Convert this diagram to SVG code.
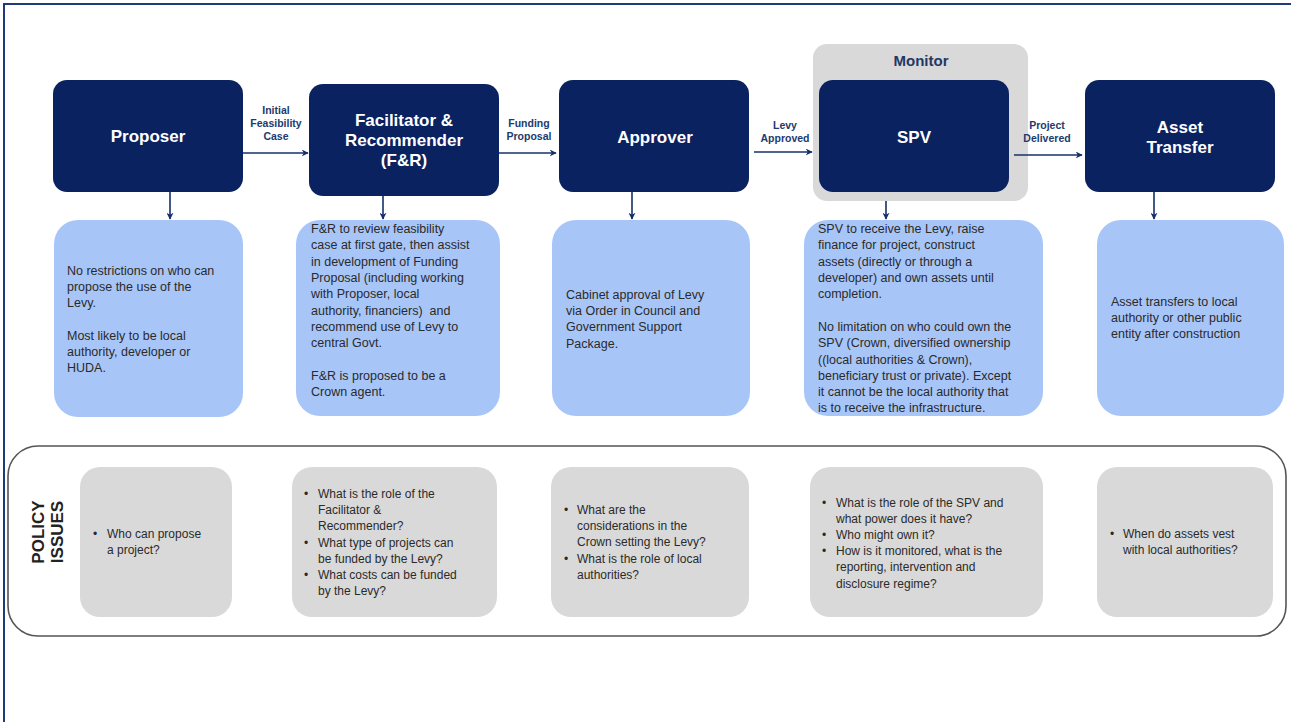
<svg xmlns="http://www.w3.org/2000/svg" width="1291" height="722" viewBox="0 0 1291 722">
<style>
.node{fill:#0b2260}
.title{font-family:"Liberation Sans",Arial,sans-serif;font-weight:bold;font-size:17px;fill:#fff;text-anchor:middle}
.lbl{font-family:"Liberation Sans",Arial,sans-serif;font-weight:bold;font-size:10.5px;fill:#213a6e;text-anchor:middle}
.desc{fill:#a8c5f8}
.body{font-family:"Liberation Sans",Arial,sans-serif;font-size:12.5px;fill:#2a2a2a;white-space:pre}
.issue{fill:#d9d9d9}
.itext{font-family:"Liberation Sans",Arial,sans-serif;font-size:12px;fill:#2a2a2a}
.conn{stroke:#14306a;stroke-width:1.6;fill:none;marker-end:url(#ah)}
</style>
<defs>
<marker id="ah" viewBox="0 0 10 10" refX="9" refY="5" markerWidth="7" markerHeight="7" markerUnits="userSpaceOnUse" orient="auto">
<path d="M0,0 L10,5 L0,10 L3,5 Z" fill="#14306a"/>
</marker>
</defs>
<rect width="1291" height="722" fill="#fff"/>
<path d="M4,722 L4,4 L1291,4" fill="none" stroke="#1f3a7a" stroke-width="2"/>

<g id="monitor">
<rect x="813" y="44" width="215" height="157" rx="14" fill="#d9d9d9"/>
<text x="921" y="66" font-family="Liberation Sans, Arial, sans-serif" font-weight="bold" font-size="15" fill="#1f3864" text-anchor="middle">Monitor</text>
</g>

<g id="proposer">
<rect class="node" x="53" y="80" width="190" height="112" rx="14"/>
<text class="title" x="148" y="142">Proposer</text>
</g>
<g id="fr">
<rect class="node" x="309" y="84" width="190" height="112" rx="14"/>
<text class="title" x="404" y="126">Facilitator &amp;</text>
<text class="title" x="404" y="146">Recommender</text>
<text class="title" x="404" y="166">(F&amp;R)</text>
</g>
<g id="approver">
<rect class="node" x="559" y="80" width="190" height="112" rx="14"/>
<text class="title" x="655" y="143">Approver</text>
</g>
<g id="spv">
<rect class="node" x="819" y="80" width="190" height="112" rx="14"/>
<text class="title" x="914" y="143">SPV</text>
</g>
<g id="asset">
<rect class="node" x="1085" y="80" width="190" height="112" rx="14"/>
<text class="title" x="1180" y="133">Asset</text>
<text class="title" x="1180" y="153">Transfer</text>
</g>

<g id="connectors">
<line class="conn" x1="243" y1="153" x2="308" y2="153"/>
<line class="conn" x1="499" y1="153" x2="556" y2="153"/>
<line class="conn" x1="754" y1="152" x2="812" y2="152"/>
<line class="conn" x1="1014" y1="155" x2="1082" y2="155"/>
<line class="conn" x1="170" y1="192" x2="170" y2="219"/>
<line class="conn" x1="383" y1="196" x2="383" y2="219"/>
<line class="conn" x1="632" y1="192" x2="632" y2="219"/>
<line class="conn" x1="886" y1="201" x2="886" y2="219"/>
<line class="conn" x1="1154" y1="192" x2="1154" y2="219"/>
<text class="lbl" x="276" y="114">Initial</text>
<text class="lbl" x="276" y="127">Feasibility</text>
<text class="lbl" x="276" y="140">Case</text>
<text class="lbl" x="529" y="127">Funding</text>
<text class="lbl" x="529" y="140">Proposal</text>
<text class="lbl" x="785" y="129">Levy</text>
<text class="lbl" x="785" y="142">Approved</text>
<text class="lbl" x="1047" y="129">Project</text>
<text class="lbl" x="1047" y="142">Delivered</text>
</g>

<g id="desc-proposer">
<rect class="desc" x="54" y="220" width="189" height="197" rx="24"/>
<text class="body"><tspan x="67" y="275">No restrictions on who can</tspan><tspan x="67" y="291">propose the use of the</tspan><tspan x="67" y="307">Levy.</tspan><tspan x="67" y="340">Most likely to be local</tspan><tspan x="67" y="356">authority, developer or</tspan><tspan x="67" y="372">HUDA.</tspan></text>
</g>
<g id="desc-fr">
<rect class="desc" x="296" y="220" width="204" height="196" rx="24"/>
<text class="body"><tspan x="311" y="233">F&amp;R to review feasibility</tspan><tspan x="311" y="249">case at first gate, then assist</tspan><tspan x="311" y="266">in development of Funding</tspan><tspan x="311" y="282">Proposal (including working</tspan><tspan x="311" y="298">with Proposer, local</tspan><tspan x="311" y="315">authority, financiers)  and</tspan><tspan x="311" y="331">recommend use of Levy to</tspan><tspan x="311" y="347">central Govt.</tspan><tspan x="311" y="380">F&amp;R is proposed to be a</tspan><tspan x="311" y="396">Crown agent.</tspan></text>
</g>
<g id="desc-approver">
<rect class="desc" x="552" y="220" width="198" height="196" rx="24"/>
<text class="body"><tspan x="566" y="299">Cabinet approval of Levy</tspan><tspan x="566" y="315">via Order in Council and</tspan><tspan x="566" y="331">Government Support</tspan><tspan x="566" y="348">Package.</tspan></text>
</g>
<g id="desc-spv">
<rect class="desc" x="804" y="220" width="239" height="196" rx="24"/>
<text class="body"><tspan x="818" y="233">SPV to receive the Levy, raise</tspan><tspan x="818" y="249">finance for project, construct</tspan><tspan x="818" y="266">assets (directly or through a</tspan><tspan x="818" y="282">developer) and own assets until</tspan><tspan x="818" y="298">completion.</tspan><tspan x="818" y="331">No limitation on who could own the</tspan><tspan x="818" y="347">SPV (Crown, diversified ownership</tspan><tspan x="818" y="364">((local authorities &amp; Crown),</tspan><tspan x="818" y="380">beneficiary trust or private). Except</tspan><tspan x="818" y="396">it cannot be the local authority that</tspan><tspan x="818" y="412">is to receive the infrastructure.</tspan></text>
</g>
<g id="desc-asset">
<rect class="desc" x="1097" y="220" width="187" height="196" rx="24"/>
<text class="body"><tspan x="1111" y="306">Asset transfers to local</tspan><tspan x="1111" y="322">authority or other public</tspan><tspan x="1111" y="338">entity after construction</tspan></text>
</g>

<g id="policy">
<rect x="8" y="446" width="1278" height="190" rx="30" fill="none" stroke="#555" stroke-width="1.6"/>
<text transform="translate(46,532) rotate(-90)" font-family="Liberation Sans, Arial, sans-serif" font-weight="bold" font-size="17" fill="#222" text-anchor="middle"><tspan x="0" y="-2">POLICY</tspan><tspan x="0" y="17">ISSUES</tspan></text>
</g>
<g id="issue-proposer">
<rect class="issue" x="80" y="467" width="152" height="150" rx="20"/>
<text class="itext"><tspan x="93" y="538">•</tspan><tspan x="107" y="538">Who can propose</tspan><tspan x="107" y="554">a project?</tspan></text>
</g>
<g id="issue-fr">
<rect class="issue" x="292" y="467" width="205" height="150" rx="20"/>
<text class="itext"><tspan x="304" y="498">•</tspan><tspan x="318" y="498">What is the role of the</tspan><tspan x="318" y="514">Facilitator &amp;</tspan><tspan x="318" y="530">Recommender?</tspan><tspan x="304" y="547">•</tspan><tspan x="318" y="547">What type of projects can</tspan><tspan x="318" y="563">be funded by the Levy?</tspan><tspan x="304" y="579">•</tspan><tspan x="318" y="579">What costs can be funded</tspan><tspan x="318" y="595">by the Levy?</tspan></text>
</g>
<g id="issue-approver">
<rect class="issue" x="551" y="467" width="198" height="150" rx="20"/>
<text class="itext"><tspan x="564" y="514">•</tspan><tspan x="577" y="514">What are the</tspan><tspan x="577" y="530">considerations in the</tspan><tspan x="577" y="546">Crown setting the Levy?</tspan><tspan x="564" y="563">•</tspan><tspan x="577" y="563">What is the role of local</tspan><tspan x="577" y="579">authorities?</tspan></text>
</g>
<g id="issue-spv">
<rect class="issue" x="810" y="467" width="233" height="150" rx="20"/>
<text class="itext"><tspan x="822" y="507">•</tspan><tspan x="836" y="507">What is the role of the SPV and</tspan><tspan x="836" y="523">what power does it have?</tspan><tspan x="822" y="539">•</tspan><tspan x="836" y="539">Who might own it?</tspan><tspan x="822" y="555">•</tspan><tspan x="836" y="555">How is it monitored, what is the</tspan><tspan x="836" y="571">reporting, intervention and</tspan><tspan x="836" y="588">disclosure regime?</tspan></text>
</g>
<g id="issue-asset">
<rect class="issue" x="1097" y="467" width="176" height="150" rx="20"/>
<text class="itext"><tspan x="1110" y="538">•</tspan><tspan x="1123" y="538">When do assets vest</tspan><tspan x="1123" y="554">with local authorities?</tspan></text>
</g>
</svg>
